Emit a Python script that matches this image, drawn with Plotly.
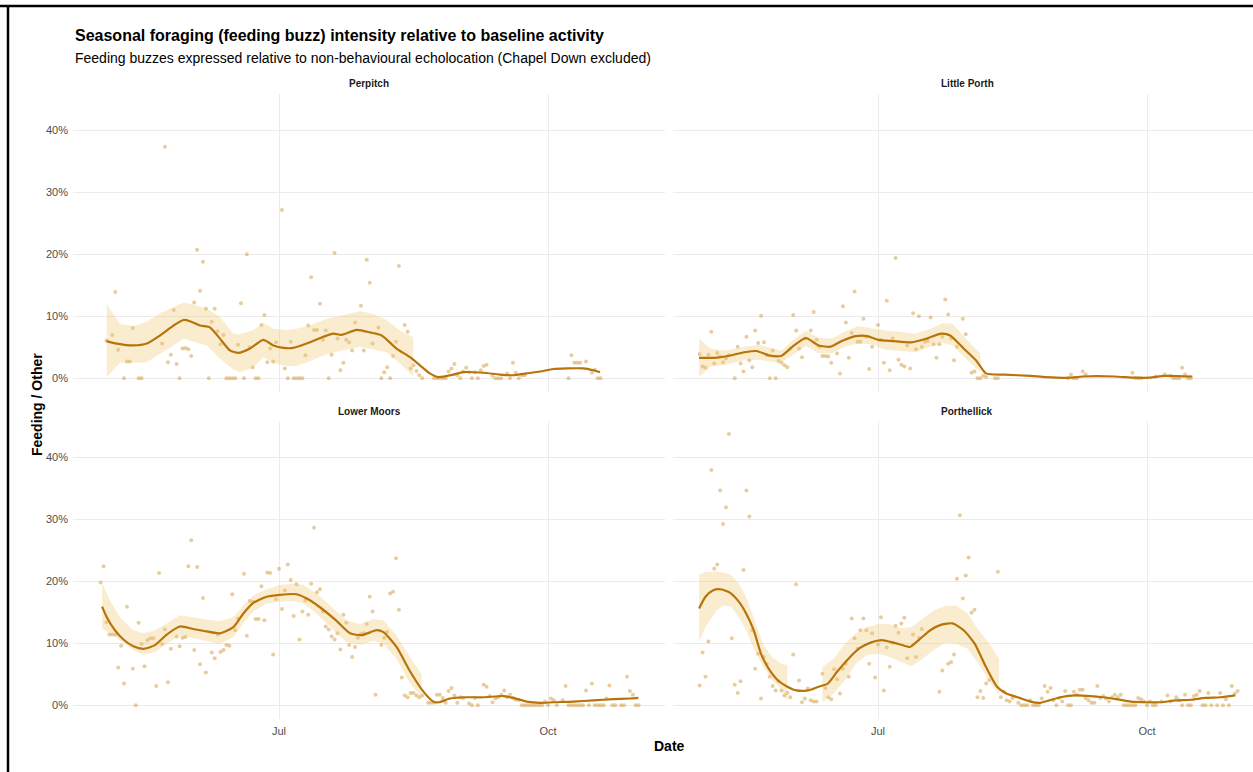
import pandas as pd
import plotly.graph_objects as go

# ---------------------------------------------------------------------------
# Data: daily feeding-buzz / other-echolocation ratio (%) per site.
# Day values are days relative to 1 July 2023.
# ---------------------------------------------------------------------------
SITES = ["Perpitch", "Little Porth", "Lower Moors", "Porthellick"]

perpitch_day = [-59, -57, -56, -55, -53, -52, -51, -50, -48, -47, -40, -39, -38, -37, -36, -35,
                -34, -33, -32, -31, -30, -29, -28, -27, -26, -25, -24, -23, -22, -21, -20, -19,
                -18, -17, -16, -15, -14, -13, -12, -11, -10, -9, -8, -7, -6, -5, -4, -3, -2, -1,
                1, 2, 3, 4, 5, 6, 7, 8, 9, 10, 11, 12, 13, 14, 15, 16, 17, 18, 19, 20, 21, 22,
                23, 24, 25, 26, 28, 29, 30, 31, 32, 34, 35, 36, 37, 38, 39, 40, 41, 43, 44, 45,
                46, 47, 48, 49, 53, 54, 55, 56, 57, 58, 59, 60, 61, 62, 63, 64, 65, 66, 67, 68,
                69, 70, 71, 73, 74, 75, 76, 78, 79, 80, 81, 82, 83, 84, 99, 100, 101, 102, 103,
                105, 107, 108, 109, 110]
perpitch_ratio = [6.1, 7.0, 13.9, 4.6, 0, 2.7, 2.7, 8.1, 0, 0, 5.6, 37.3, 2.6, 3.8, 11.0, 2.3,
                  0, 4.8, 4.9, 4.7, 3.6, 12.2, 20.7, 14.1, 18.8, 11.2, 0, 9.1, 11.2, 7.6, 5.5, 7.0,
                  0, 0, 0, 0, 5.4, 12.1, 0, 20.0, 5.0, 1.8, 0, 0, 8.6, 10.2, 2.6, 4.8, 2.7, 5.8,
                  27.1, 1.6, 0, 5.9, 0, 0, 0, 0, 3.7, 8.5, 16.3, 7.8, 7.8, 12.0, 6.2, 7.7, 0, 3.8,
                  20.2, 6.4, 1.3, 2.5, 6.2, 5.8, 4.5, 9.0, 11.7, 4.5, 19.1, 15.4, 5.6, 8.2, 0, 1.0,
                  1.8, 0, 3.6, 5.9, 18.1, 8.6, 7.5, 1.6, 2.1, 1.2, 0.5, 0, 0, 0, 0, 0, 0, 1.1,
                  1.6, 2.3, 0.5, 0, 1.1, 1.7, 1.0, 0, 1.0, 0, 1.3, 2.0, 2.2, 0.4, 0, 0, 0, 0.8,
                  0, 2.5, 0.9, 0, 0.5, 0.5, 0, 3.7, 2.5, 2.5, 2.5, 2.7, 0.9, 1.4, 0, 0]

little_porth_day = [-61, -60, -59, -58, -57, -56, -55, -54, -53, -52, -51, -49, -48, -47, -46,
                    -45, -44, -43, -42, -41, -40, -39, -38, -37, -36, -35, -34, -33, -32, -31,
                    -30, -29, -28, -27, -26, -25, -23, -22, -21, -20, -19, -18, -17, -16, -14,
                    -13, -12, -11, -10, -9, -8, -7, -6, -5, -4, -3, -2, 0, 1, 2, 3, 4, 5, 6, 7,
                    8, 9, 10, 11, 12, 13, 14, 15, 16, 17, 18, 19, 20, 21, 22, 23, 24, 25, 26, 27,
                    29, 30, 32, 33, 34, 35, 36, 37, 40, 41, 65, 66, 67, 68, 70, 71, 87, 88, 89,
                    90, 95, 98, 100, 101, 102, 103, 104, 105, 106, 107]
little_porth_ratio = [3.9, 1.9, 1.7, 3.8, 7.5, 2.4, 4.1, 3.5, 2.6, 3.2, 3.7, 0, 5.1, 2.4, 1.1,
                      6.7, 2.9, 1.8, 7.7, 5.7, 10.1, 5.8, 3.7, 0, 4.5, 0, 2.8, 2.5, 2.1, 1.8,
                      4.8, 10.2, 7.7, 4.8, 3.4, 6.4, 7.7, 10.7, 6.2, 5.1, 3.6, 3.6, 3.5, 2.5, 4.0,
                      0.8, 11.6, 9.0, 3.3, 7.3, 14.0, 5.9, 5.9, 9.6, 6.7, 1.5, 5.1, 8.6, 6.2, 2.5,
                      12.5, 1.3, 6.4, 19.4, 3.0, 2.2, 1.9, 5.3, 1.6, 10.5, 4.7, 10.0, 5.1, 5.9,
                      6.0, 9.8, 5.5, 3.3, 5.5, 6.7, 12.7, 10.3, 6.4, 2.9, 5.1, 9.6, 7.1, 0.9, 1.1,
                      0, 0, 0.4, 0.2, 0, 0, 0, 0.6, 0, 0, 1.1, 0.6, 0.9, 0, 0, 0, 0.3, 0.6, 0.4,
                      0, 0, 0, 1.7, 0.6, 0, 0]

lower_moors_day = [-61, -60, -59, -58, -57, -56, -55, -54, -53, -52, -50, -49, -48, -47, -46,
                   -45, -44, -43, -42, -41, -40, -39, -38, -37, -35, -34, -33, -32, -31, -30,
                   -29, -28, -27, -26, -25, -23, -22, -21, -20, -19, -18, -17, -16, -15, -14,
                   -12, -11, -10, -9, -8, -7, -6, -5, -4, -3, -2, -1, 0, 1, 2, 3, 4, 5, 6, 7, 8,
                   9, 10, 11, 12, 13, 14, 15, 16, 17, 18, 19, 20, 21, 22, 23, 24, 25, 26, 27, 28,
                   29, 30, 31, 32, 33, 35, 36, 37, 38, 39, 40, 41, 42, 43, 44, 45, 46, 47, 48,
                   49, 51, 52, 53, 54, 55, 56, 57, 58, 59, 60, 61, 62, 63, 65, 66, 67, 68, 70,
                   71, 72, 73, 74, 75, 76, 77, 78, 79, 80, 81, 82, 83, 84, 85, 86, 87, 88, 89,
                   90, 91, 92, 93, 94, 95, 97, 98, 99, 100, 101, 102, 103, 104, 105, 106, 107,
                   108, 109, 110, 111, 112, 113, 114, 115, 117, 118, 119, 120, 121, 122, 123]
lower_moors_ratio = [19.8, 22.4, 13.4, 11.4, 11.4, 11.4, 6.1, 9.6, 3.5, 15.9, 5.9, 0, 13.3, 9.9,
                     6.3, 10.5, 10.8, 10.8, 3.1, 21.3, 9.9, 12.2, 3.7, 9.1, 11.1, 9.5, 10.9,
                     11.0, 22.4, 26.6, 8.9, 22.3, 6.6, 17.3, 5.3, 8.5, 7.6, 11.4, 8.6, 8.9, 9.7,
                     9.6, 17.9, 12.1, 14.0, 21.2, 11.2, 16.8, 16.7, 13.9, 13.9, 19.2, 13.7, 21.4,
                     21.3, 8.2, 17.1, 22.0, 15.5, 18.5, 22.7, 20.2, 14.4, 19.5, 10.6, 15.1, 16.9,
                     14.6, 19.6, 28.6, 18.2, 18.7, 15.1, 12.7, 12.2, 11.1, 10.6, 11.6, 9.0, 14.6,
                     13.3, 9.7, 7.8, 9.4, 10.9, 11.5, 11.6, 13.1, 17.5, 15.1, 1.7, 9.7, 10.9,
                     11.8, 18.0, 18.3, 23.7, 15.4, 4.5, 1.6, 1.3, 2.0, 2.0, 1.6, 1.3, 1.6, 0.4,
                     0.4, 0.4, 1.7, 1.7, 1.2, 0.4, 2.3, 2.8, 1.6, 0.4, 1.3, 1.2, 0.3, 0, 1.2, 0,
                     3.3, 3.0, 1.5, 0.5, 1.1, 1.3, 1.7, 2.4, 1.3, 1.7, 1.2, 0.9, 0.9, 0, 0, 0, 0,
                     0, 0, 0, 0, 0.6, 0, 1.1, 0.8, 0, 0.8, 3.1, 0, 0, 0, 0, 0, 0, 2.4, 0, 3.5, 0,
                     0, 0, 0, 1.1, 3.2, 0, 0, 0, 0, 4.6, 2.3, 1.7, 0, 0]

porthellick_day = [-61, -60, -59, -58, -57, -56, -55, -54, -53, -52, -51, -50, -49, -48, -47,
                   -46, -45, -44, -43, -42, -41, -40, -39, -38, -37, -36, -35, -34, -33, -32,
                   -31, -30, -29, -28, -27, -26, -25, -24, -23, -22, -21, -19, -18, -17, -16,
                   -15, -14, -13, -12, -11, -10, -9, -8, -7, -6, -5, -4, -3, -2, -1, 0, 1, 2, 3,
                   4, 5, 6, 7, 8, 9, 10, 12, 13, 14, 15, 21, 22, 24, 25, 26, 27, 28, 29, 30, 31,
                   32, 33, 34, 35, 36, 37, 38, 41, 42, 43, 44, 45, 46, 48, 49, 50, 51, 52, 53,
                   54, 55, 56, 57, 58, 59, 60, 61, 62, 63, 64, 65, 66, 67, 68, 69, 70, 71, 72,
                   73, 74, 75, 76, 77, 78, 79, 80, 81, 82, 83, 84, 85, 86, 87, 88, 89, 90, 91,
                   92, 93, 94, 95, 97, 99, 100, 102, 103, 104, 105, 106, 107, 108, 109, 110, 111,
                   112, 113, 114, 116, 117, 118, 119, 120, 121, 122, 123]
porthellick_ratio = [3.2, 8.5, 4.6, 10.3, 37.9, 22.0, 22.7, 34.6, 29.2, 31.9, 43.7, 10.8, 3.3,
                     2.0, 3.9, 21.8, 34.6, 30.4, 12.1, 5.9, 8.3, 1.1, 7.8, 6.7, 4.6, 3.1, 2.4,
                     3.9, 2.4, 1.6, 2.0, 1.3, 8.2, 19.5, 4.0, 0.5, 1.1, 2.7, 0.8, 0.6, 0.6, 5.1,
                     2.8, 1.3, 1.0, 5.8, 4.2, 1.9, 5.9, 6.7, 4.6, 14.0, 10.8, 9.1, 12.1, 14.0,
                     12.1, 6.7, 11.6, 4.5, 9.8, 14.2, 2.4, 9.3, 6.2, 10.1, 12.8, 11.7, 13.2, 14.1,
                     7.6, 11.4, 7.8, 10.9, 12.3, 2.2, 5.6, 6.7, 7.0, 8.2, 20.4, 30.6, 17.2, 20.9,
                     23.8, 14.9, 15.4, 1.3, 2.3, 1.2, 3.5, 4.1, 21.5, 1.3, 2.2, 0.8, 0.6, 1.2,
                     0.4, 0, 0, 0, 0.8, 0, 0, 0, 1.1, 3.1, 2.2, 2.8, 0.8, 0, 1.2, 0.6, 2.3, 0, 0,
                     2.2, 1.7, 2.5, 2.5, 1.2, 0.8, 0.4, 0.4, 3.1, 1.2, 1.5, 1.1, 0.6, 1.3, 1.7,
                     1.3, 1.7, 0, 0, 0, 0, 0, 1.2, 1.0, 0.6, 0, 0.6, 0, 0, 0.6, 1.6, 0.6, 1.3,
                     0.8, 0, 1.7, 0, 0, 1.5, 1.7, 2.3, 0, 0, 2.0, 0, 0, 2.0, 0, 1.0, 0, 3.1, 1.9,
                     2.3]

# Loess fits (ratio %) per site
perpitch_fit_day = [-59, -55.5, -49.8, -45.2, -40.7, -36.1, -32.7, -30.4, -27, -23.6, -20.2,
                    -16.8, -13.9, -9.9, -5.4, -1.9, 1.5, 4.9, 10.6, 15.2, 18.6, 21.4, 26.6, 31.1,
                    35.1, 40.2, 44.8, 48.2, 51.6, 54.5, 59.6, 63, 69.9, 75.6, 80.1, 84.7, 89.3,
                    93.8, 98.4, 104.1, 107.5, 109.8]
perpitch_fit = [6.0, 5.6, 5.3, 5.6, 6.9, 8.5, 9.4, 9.2, 8.5, 8.2, 6.4, 4.5, 4.1, 4.8, 6.2, 5.3,
                4.9, 4.9, 5.8, 6.7, 7.2, 7.0, 7.8, 7.4, 6.9, 4.8, 3.4, 2.1, 0.8, 0.2, 0.6, 1.0,
                0.9, 0.6, 0.5, 0.8, 1.1, 1.5, 1.6, 1.6, 1.3, 1.0]

little_porth_fit_day = [-61.2, -55.9, -51.4, -45.7, -41.5, -37.4, -33.2, -29.2, -24.7, -20.3,
                        -16.2, -12.0, -7.6, -3.7, 0.1, 5.2, 11.5, 16.6, 21.7, 24.7, 29.3, 33.7,
                        36.9, 43.3, 52.2, 57.3, 65.6, 70.0, 80.8, 87.8, 92.9, 98.0, 107.5]
little_porth_fit = [3.3, 3.3, 3.6, 4.2, 4.4, 3.7, 3.6, 5.1, 6.5, 5.3, 5.1, 6.1, 6.8, 6.8, 6.2,
                    6.0, 5.8, 6.4, 7.2, 6.9, 4.8, 2.8, 0.8, 0.6, 0.4, 0.2, 0.1, 0.3, 0.3, 0.1,
                    0.1, 0.4, 0.3]

lower_moors_fit_day = [-60.5, -58.9, -56.1, -53.2, -49.8, -46.4, -42.4, -38.4, -33.9, -29.3,
                       -24.7, -20.2, -15.6, -12.2, -8.8, -4.2, 0.3, 6.0, 9.5, 14.0, 19.7, 24.3,
                       28.3, 33.4, 35.7, 40.2, 44.8, 49.4, 52.8, 54.8, 58.5, 64.2, 69.9, 76.7,
                       80.1, 84.7, 89.3, 93.8, 100.7, 107.5, 114.3, 120.0, 122.9]
lower_moors_fit = [15.9, 14.2, 12.1, 10.6, 9.5, 9.1, 9.7, 11.4, 12.7, 12.3, 11.9, 11.6, 12.6,
                   14.8, 16.5, 17.5, 17.8, 17.9, 17.2, 15.8, 13.6, 11.6, 11.3, 12.1, 11.8, 9.4,
                   5.5, 2.2, 0.6, 0.5, 1.1, 1.3, 1.3, 1.5, 1.2, 0.6, 0.4, 0.5, 0.6, 0.8, 1.0,
                   1.1, 1.2]

porthellick_fit_day = [-61.2, -59.0, -56.5, -54.0, -50.8, -47.6, -45.1, -42.5, -40.0, -37.4,
                       -34.2, -31.0, -27.9, -24.0, -20.3, -17.2, -14.0, -10.1, -6.3, -2.5, 1.3,
                       5.2, 7.7, 10.9, 14.1, 17.9, 21.7, 25.5, 29.3, 33.1, 36.9, 40.7, 43.9,
                       48.4, 52.2, 55.4, 58.6, 62.4, 67.5, 72.6, 77.0, 81.4, 86.5, 91.6, 96.7,
                       101.8, 106.9, 112.0, 117.1, 122.2]
porthellick_fit = [15.6, 17.5, 18.5, 18.7, 18.2, 16.7, 14.8, 12.1, 8.3, 5.9, 4.0, 3.0, 2.4, 2.4,
                   3.0, 3.5, 5.4, 7.5, 9.2, 10.1, 10.5, 10.1, 9.8, 9.4, 10.6, 12.1, 13.0, 13.2,
                   12.1, 9.9, 6.2, 3.0, 1.9, 1.2, 0.6, 0.4, 0.8, 1.3, 1.6, 1.5, 1.3, 1.0, 0.6,
                   0.5, 0.5, 0.8, 0.9, 1.2, 1.3, 1.6]

# Confidence bands (None = band not available for that stretch)
perpitch_band_day = [-58.9, -54.4, -49.8, -45.3, -40.7, -36.1, -32.7, -29.3, -24.7, -20.2, -15.6,
                     -13.3, -8.8, -5.4, -1.9, 2.6, 6.0, 10.6, 16.3, 20.9, 27.7, 32.3, 36.8, 41.4,
                     45.9]
perpitch_lo = [0.2, 2.5, 2.5, 2.6, 4.0, 5.3, 6.4, 5.9, 5.3, 3.2, 1.4, 1.0, 1.7, 3.4, 2.5, 2.0,
               2.0, 2.8, 3.9, 4.4, 5.1, 4.6, 4.2, 2.4, 0.3]
perpitch_hi = [11.9, 8.8, 8.4, 9.1, 10.5, 11.5, 12.2, 11.9, 11.2, 9.9, 7.2, 7.1, 7.8, 8.9, 8.0,
               7.8, 8.0, 8.5, 9.6, 10.1, 10.8, 10.4, 9.4, 7.7, 6.6]

little_porth_band_day = [-61.2, -57.2, -52.1, -45.7, -40.6, -35.5, -33.0, -29.2, -24.7, -20.3,
                         -15.8, -11.4, -6.9, -2.5, 2.6, 7.7, 12.8, 17.9, 22.3, 25.5, 30.6, 35.0]
little_porth_lo = [0.3, 1.9, 2.2, 2.9, 3.0, 2.6, 2.6, 3.7, 5.2, 4.1, 4.0, 5.1, 5.6, 5.5, 4.6,
                   4.4, 4.2, 5.1, 5.7, 5.3, 2.9, 1.0]
little_porth_hi = [6.4, 4.8, 4.5, 5.1, 5.4, 4.8, 4.5, 6.1, 7.7, 6.5, 6.4, 7.5, 8.4, 8.1, 7.7,
                   7.5, 7.2, 8.0, 8.9, 8.8, 6.1, 4.0]

lower_moors_band_day = [-60.5, -57.8, -54.4, -49.8, -46.4, -42.4, -38.4, -33.9, -29.3, -24.7,
                        -20.2, -15.6, -12.2, -8.8, -4.2, 0.3, 4.9, 8.3, 12.9, 18.6, 23.1, 27.7,
                        32.3, 35.7, 40.2, 44.8, 48.8]
lower_moors_lo = [12.4, 11.6, 10.5, 8.9, 8.1, 8.6, 9.9, 11.3, 10.8, 10.4, 9.9, 11.0, 13.2, 15.1,
                  16.4, 16.7, 16.8, 16.4, 14.8, 12.1, 10.2, 9.7, 10.4, 9.9, 7.5, 3.5, 1.3]
lower_moors_hi = [19.7, 16.9, 14.2, 12.1, 11.6, 12.1, 13.2, 14.5, 14.2, 13.8, 13.6, 14.2, 16.1,
                  17.7, 18.7, 19.4, 19.6, 19.4, 18.0, 15.6, 13.7, 13.1, 13.9, 13.7, 11.3, 7.8,
                  5.0]

porthellick_band_day = [-61.2, -59.0, -55.2, -52.7, -50.2, -47.6, -45.1, -42.5, -39.3, -36.1,
                        -33.0, -31.0, -25.0, -19.0, -15.2, -11.4, -7.6, -3.7, 0.1, 3.9, 7.7,
                        11.5, 15.3, 19.1, 23.0, 26.8, 30.6, 34.4, 38.2, 41.4]
porthellick_lo = [10.2, 12.6, 15.3, 16.1, 15.9, 14.2, 12.1, 9.1, 6.2, 4.0, 2.5, 0.8, None, 0.5,
                  1.9, 4.0, 6.7, 8.1, 8.3, 7.8, 7.0, 6.3, 7.5, 8.9, 10.1, 9.9, 9.1, 6.7, 3.8,
                  1.6]
porthellick_hi = [21.1, 21.5, 21.5, 21.4, 21.0, 19.6, 17.5, 14.2, 9.9, 7.7, 6.7, 6.5, None, 6.2,
                  7.5, 9.9, 11.6, 12.6, 13.1, 13.1, 12.4, 12.6, 14.0, 15.3, 16.0, 16.1, 14.8,
                  12.1, 9.9, 7.5]

Y_TICKS = [0, 10, 20, 30, 40]
X_TICK_DATES = ["2023-07-01", "2023-10-01"]
X_TICK_TEXT = ["Jul", "Oct"]

# ---------------------------------------------------------------------------
REF = pd.Timestamp("2023-07-01")


def to_dates(days):
    return [REF + pd.Timedelta(days=float(d)) for d in days]


W, H = 1253, 772
LINE_COL = "#B8740A"
POINT_COL = "rgba(214,163,78,0.55)"
BAND_COL = "rgba(240,200,105,0.32)"
GRID_COL = "#EBEBEB"
FONT = "Liberation Sans, Arial, sans-serif"


def px_x(p):
    return p / W


def px_y(p):
    return 1 - p / H


site_data = {
    "Perpitch": (perpitch_day, perpitch_ratio, perpitch_fit_day, perpitch_fit,
                 perpitch_band_day, perpitch_lo, perpitch_hi),
    "Little Porth": (little_porth_day, little_porth_ratio, little_porth_fit_day, little_porth_fit,
                     little_porth_band_day, little_porth_lo, little_porth_hi),
    "Lower Moors": (lower_moors_day, lower_moors_ratio, lower_moors_fit_day, lower_moors_fit,
                    lower_moors_band_day, lower_moors_lo, lower_moors_hi),
    "Porthellick": (porthellick_day, porthellick_ratio, porthellick_fit_day, porthellick_fit,
                    porthellick_band_day, porthellick_lo, porthellick_hi),
}

# panel geometry (pixels): x-span, y-span, jul-1 position
panels = {
    "Perpitch": dict(x0=73, x1=665, y0=94, y1=392, jul=279, ax=""),
    "Little Porth": dict(x0=673, x1=1253, y0=94, y1=392, jul=878, ax="2"),
    "Lower Moors": dict(x0=73, x1=665, y0=421, y1=719, jul=279, ax="3"),
    "Porthellick": dict(x0=673, x1=1253, y0=421, y1=719, jul=878, ax="4"),
}
PX_PER_DAY = 2.924
Y_RANGE = [-2.2, 45.8]

fig = go.Figure()


def runs(days, lo, hi):
    out, cur = [], []
    for d, a, b in zip(days, lo, hi):
        if a is None or b is None:
            if cur:
                out.append(cur)
            cur = []
        else:
            cur.append((d, a, b))
    if cur:
        out.append(cur)
    return out


for site in SITES:
    day, ratio, fday, fit, bday, lo, hi = site_data[site]
    p = panels[site]
    xa, ya = "x" + p["ax"], "y" + p["ax"]
    fig.add_trace(go.Scatter(
        x=to_dates(day), y=ratio, mode="markers", xaxis=xa, yaxis=ya,
        marker=dict(size=4, color=POINT_COL, line=dict(width=0)),
        showlegend=False, hoverinfo="skip"))
    for seg in runs(bday, lo, hi):
        ds = [s[0] for s in seg]
        los = [s[1] for s in seg]
        his = [s[2] for s in seg]
        fig.add_trace(go.Scatter(
            x=to_dates(ds + ds[::-1]), y=his + los[::-1], fill="toself",
            fillcolor=BAND_COL, line=dict(width=0), mode="lines",
            xaxis=xa, yaxis=ya, showlegend=False, hoverinfo="skip"))
    fig.add_trace(go.Scatter(
        x=to_dates(fday), y=fit, mode="lines", xaxis=xa, yaxis=ya,
        line=dict(color=LINE_COL, width=2.2, shape="spline", smoothing=0.6),
        showlegend=False, hoverinfo="skip"))

layout = dict(
    width=W, height=H,
    margin=dict(l=0, r=0, t=0, b=0),
    paper_bgcolor="white", plot_bgcolor="white",
    font=dict(family=FONT, color="#4D4D4D", size=11),
    showlegend=False,
)

for site in SITES:
    p = panels[site]
    left_days = (p["x0"] - p["jul"]) / PX_PER_DAY
    right_days = (p["x1"] - p["jul"]) / PX_PER_DAY
    bottom = site in ("Lower Moors", "Porthellick")
    left = site in ("Perpitch", "Lower Moors")
    layout["xaxis" + p["ax"]] = dict(
        domain=[px_x(p["x0"]), px_x(p["x1"])],
        anchor="y" + p["ax"], type="date",
        range=[REF + pd.Timedelta(days=left_days), REF + pd.Timedelta(days=right_days)],
        tickvals=X_TICK_DATES, ticktext=X_TICK_TEXT,
        showticklabels=bottom, showgrid=True, gridcolor=GRID_COL, gridwidth=1,
        zeroline=False, showline=False, ticks="", ticklabelstandoff=4,
        tickfont=dict(size=11, color="#4D4D4D"))
    layout["yaxis" + p["ax"]] = dict(
        domain=[px_y(p["y1"]), px_y(p["y0"])],
        anchor="x" + p["ax"], range=Y_RANGE,
        tickvals=Y_TICKS, ticktext=[f"{v}%" for v in Y_TICKS],
        showticklabels=left, showgrid=True, gridcolor=GRID_COL, gridwidth=1,
        zeroline=False, showline=False, ticks="", ticklabelstandoff=4,
        tickfont=dict(size=11, color="#4D4D4D"))

annotations = [
    dict(text="Seasonal foraging (feeding buzz) intensity relative to baseline activity",
         x=px_x(73), y=px_y(36), xanchor="left", yanchor="middle",
         font=dict(size=16, color="black", weight="bold")),
    dict(text="Feeding buzzes expressed relative to non-behavioural echolocation (Chapel Down excluded)",
         x=px_x(73), y=px_y(58), xanchor="left", yanchor="middle",
         font=dict(size=14, color="black")),
    dict(text="Feeding / Other", x=px_x(37), y=px_y(405), textangle=-90,
         xanchor="center", yanchor="middle",
         font=dict(size=14, color="black", weight="bold")),
    dict(text="Date", x=px_x(669), y=px_y(746), xanchor="center", yanchor="middle",
         font=dict(size=14, color="black", weight="bold")),
]
strip_pos = {"Perpitch": (369, 84), "Little Porth": (967, 84),
             "Lower Moors": (369, 411), "Porthellick": (967, 411)}
for site in SITES:
    sx, sy = strip_pos[site]
    annotations.append(dict(text=site, x=px_x(sx), y=px_y(sy), xanchor="center",
                            yanchor="middle", font=dict(size=10, color="#1A1A1A", weight="bold")))
for a in annotations:
    a.update(xref="paper", yref="paper", showarrow=False)
layout["annotations"] = annotations

# frame lines along the top and left edge
layout["shapes"] = [
    dict(type="line", xref="paper", yref="paper", x0=0, x1=1, y0=px_y(6), y1=px_y(6),
         line=dict(color="black", width=2.5)),
    dict(type="line", xref="paper", yref="paper", x0=px_x(8), x1=px_x(8), y0=0, y1=px_y(5),
         line=dict(color="black", width=2.5)),
]

fig.update_layout(**layout)
fig.write_html("out.html")
